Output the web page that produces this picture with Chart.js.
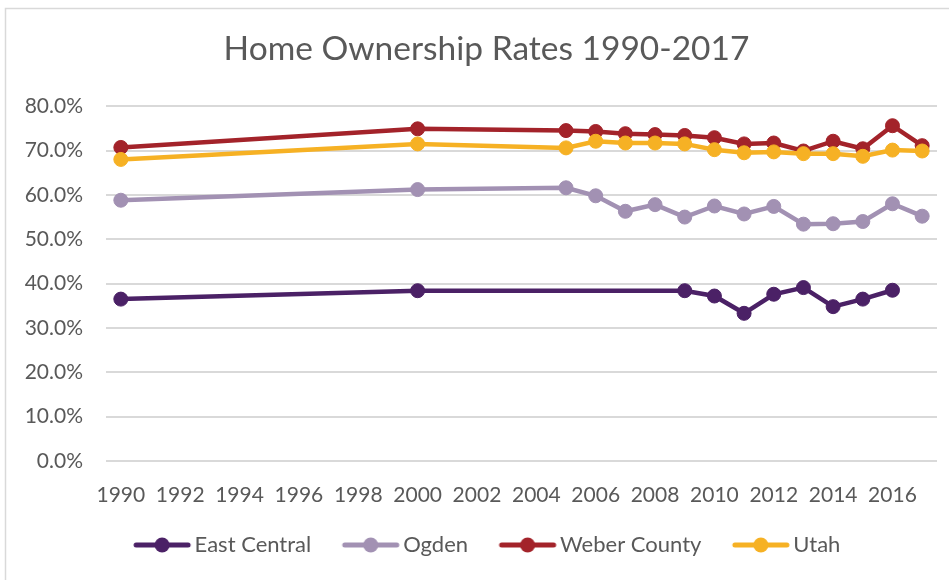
<!DOCTYPE html>
<html>
<head>
<meta charset="utf-8">
<script src="https://cdn.jsdelivr.net/npm/chart.js@4/dist/chart.umd.min.js"></script>
<style>
  html, body { margin: 0; padding: 0; background: #ffffff; }
  #wrap { position: absolute; left: 0; top: 0; width: 949px; height: 580px; }
</style>
</head>
<body>
<div id="wrap"><canvas id="c" width="949" height="580"></canvas></div>
<script>
// ---- data ----
const chartTitle = 'Home Ownership Rates 1990-2017';
const years = [1990, 2000, 2005, 2006, 2007, 2008, 2009, 2010, 2011, 2012, 2013, 2014, 2015, 2016, 2017];
const xTickYears = [1990, 1992, 1994, 1996, 1998, 2000, 2002, 2004, 2006, 2008, 2010, 2012, 2014, 2016];
const yTickValues = [0, 10, 20, 30, 40, 50, 60, 70, 80];
const seriesNames = ['East Central', 'Ogden', 'Weber County', 'Utah'];
const eastCentral = [36.5, 38.4, null, null, null, null, 38.4, 37.2, 33.3, 37.6, 39.1, 34.8, 36.5, 38.5, null];
const ogden       = [58.8, 61.2, 61.6, 59.8, 56.3, 57.8, 55.0, 57.5, 55.7, 57.4, 53.4, 53.5, 54.0, 58.0, 55.2];
const weberCounty = [70.7, 74.9, 74.5, 74.3, 73.8, 73.6, 73.4, 72.9, 71.5, 71.7, 69.9, 72.1, 70.4, 75.6, 71.1];
const utah        = [68.0, 71.5, 70.6, 72.1, 71.7, 71.7, 71.5, 70.2, 69.5, 69.7, 69.3, 69.3, 68.7, 70.1, 69.9];

// ---- styles ----
const colors = ['#4b2166', '#a291b3', '#a3232a', '#f6b124'];
const textColor = '#595959';
const fontFamily = 'Lato, "Open Sans", sans-serif';

function toPoints(vals) {
  return years.map((y, i) => ({ x: y, y: vals[i] }));
}

function legendIcon(color) {
  const cv = document.createElement('canvas');
  cv.width = 100; cv.height = 18;
  const g = cv.getContext('2d');
  g.strokeStyle = color;
  g.lineWidth = 5;
  g.lineCap = 'round';
  g.beginPath();
  g.moveTo(28, 9); g.lineTo(80, 9);
  g.stroke();
  g.fillStyle = color;
  g.beginPath();
  g.arc(54, 9, 7.5, 0, Math.PI * 2);
  g.fill();
  return cv;
}
const icons = colors.map(legendIcon);

const seriesValues = [eastCentral, ogden, weberCounty, utah];
// draw order: Utah on top -> put it first, reverse legend
const order = [3, 2, 1, 0];
const datasets = order.map(i => ({
  label: seriesNames[i],
  data: toPoints(seriesValues[i]),
  borderColor: colors[i],
  backgroundColor: colors[i],
  pointBackgroundColor: colors[i],
  pointBorderColor: colors[i],
  borderWidth: 4.5,
  pointRadius: 7,
  pointBorderWidth: 1,
  pointHoverRadius: 7,
  tension: 0,
  spanGaps: true,
  _idx: i
}));

const borderPlugin = {
  id: 'outerBorder',
  beforeDraw(chart) {
    const ctx = chart.ctx;
    ctx.save();
    ctx.fillStyle = '#ffffff';
    ctx.fillRect(0, 0, chart.width, chart.height);
    ctx.strokeStyle = '#d9d9d9';
    ctx.lineWidth = 1.5;
    ctx.strokeRect(5.5, 8.5, 1200, 1200);
    ctx.restore();
  }
};

new Chart(document.getElementById('c'), {
  type: 'line',
  data: { datasets },
  plugins: [borderPlugin],
  options: {
    responsive: false,
    animation: false,
    devicePixelRatio: 1,
    layout: { padding: { top: 29, left: 0, right: -24, bottom: 14 } },
    plugins: {
      title: {
        display: true,
        text: chartTitle,
        color: textColor,
        font: { family: fontFamily, size: 33.5, weight: 'normal' },
        padding: { top: 0, bottom: 37 }
      },
      legend: {
        display: true,
        position: 'bottom',
        reverse: true,
        labels: {
          color: textColor,
          font: { family: fontFamily, size: 22 },
          usePointStyle: true,
          pointStyleWidth: 51,
          boxHeight: 18,
          padding: 30,
          generateLabels(chart) {
            const items = Chart.defaults.plugins.legend.labels.generateLabels(chart);
            items.forEach(it => {
              const ds = chart.data.datasets[it.datasetIndex];
              it.pointStyle = icons[ds._idx];
            });
            return items;
          }
        }
      },
      tooltip: { enabled: false }
    },
    scales: {
      x: {
        type: 'linear',
        min: 1989.5,
        max: 2017.5,
        afterBuildTicks(scale) {
          scale.ticks = xTickYears.map(v => ({ value: v }));
        },
        afterFit(scale) { scale.height = 43; },
        grid: { display: false },
        border: { display: false },
        ticks: {
          color: textColor,
          font: { family: fontFamily, size: 21 },
          padding: 14,
          maxRotation: 0,
          autoSkip: false,
          callback: v => String(v)
        }
      },
      y: {
        min: 0,
        max: 80,
        afterBuildTicks(scale) {
          scale.ticks = yTickValues.map(v => ({ value: v }));
        },
        afterFit(scale) { scale.width = 106; },
        grid: { color: '#d9d9d9', lineWidth: 2, drawTicks: false },
        border: { display: false },
        ticks: {
          color: textColor,
          font: { family: fontFamily, size: 21 },
          padding: 23,
          callback: v => v.toFixed(1) + '%'
        }
      },
      yRight: {
        position: 'right',
        min: 0,
        max: 80,
        afterFit(scale) { scale.width = 36; },
        grid: { display: false, drawTicks: false },
        border: { display: false },
        ticks: { display: false }
      }
    }
  }
});
</script>
</body>
</html>
